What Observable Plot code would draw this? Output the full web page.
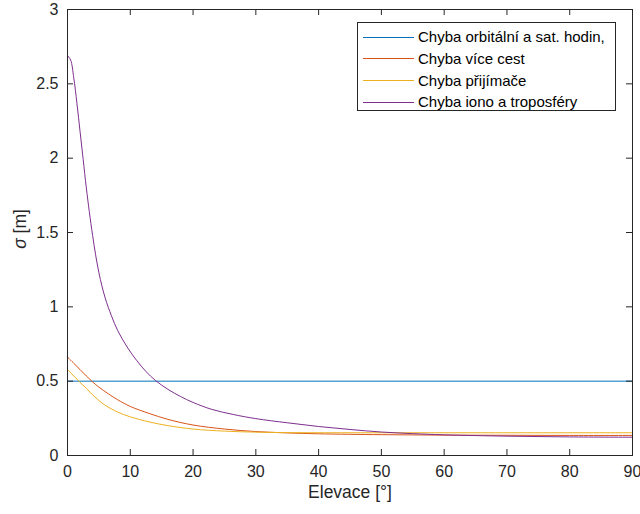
<!DOCTYPE html>
<html>
<head>
<meta charset="utf-8">
<script src="https://cdn.jsdelivr.net/npm/d3@7"></script>
<script src="https://cdn.jsdelivr.net/npm/@observablehq/plot@0.6"></script>
<style>
  html, body { margin: 0; padding: 0; background: #fff; }
  #chart { position: relative; width: 640px; height: 514px; font-family: "Liberation Sans", Arial, sans-serif; color: #262626; }
  #legend { position: absolute; left: 357px; top: 22px; width: 259px; height: 89px; border: 1px solid #262626; background: #fff; box-sizing: border-box; padding-top: 3px; }
  .row { position: relative; height: 21.8px; font-size: 15px; line-height: 21.8px; color: #000; white-space: nowrap; }
  .row .sw { position: absolute; left: 5px; top: 10.5px; width: 51px; height: 0; border-top: 1px solid; }
  .row .lb { position: absolute; left: 60px; top: 0; }
</style>
</head>
<body>
<div id="chart"></div>
<script>
// Series names and colours
const seriesNames = ["Chyba orbitální a sat. hodin,", "Chyba více cest", "Chyba přijímače", "Chyba iono a troposféry"];
const seriesColors = ["#0072BD", "#D95319", "#EDB120", "#7E2F8E"];

// Orbital & clock error (constant)
const elevBlue = [0, 90];
const sigmaBlue = [0.5, 0.5];

// Multipath error
const elevRed = [0, 1, 2, 3, 4, 5, 6.5, 8, 10, 13, 16, 20, 25, 30, 35, 40, 50, 60, 70, 80, 90];
const sigmaRed = [0.662, 0.62, 0.578, 0.535, 0.495, 0.46, 0.415, 0.375, 0.33, 0.283, 0.243, 0.205, 0.178, 0.161, 0.152, 0.146, 0.14, 0.137, 0.136, 0.135, 0.135];

// Receiver error
const elevYellow = [0, 1, 2, 3, 4, 5, 6, 8, 10, 13, 16, 20, 25, 30, 35, 45, 60, 90];
const sigmaYellow = [0.579, 0.535, 0.492, 0.452, 0.408, 0.37, 0.338, 0.292, 0.26, 0.226, 0.201, 0.178, 0.164, 0.157, 0.154, 0.153, 0.153, 0.153];

// Iono & troposphere error
const elevPurple = [0, 0.5, 1, 1.5, 2, 2.5, 3, 4, 5, 6, 7, 8, 9.5, 11, 12.5, 14, 16, 18, 20, 23, 26.4, 30, 35, 40, 45, 50, 55, 60, 70, 80, 90];
const sigmaPurple = [2.69, 2.66, 2.54, 2.37, 2.18, 1.99, 1.80, 1.48, 1.23, 1.06, 0.94, 0.84, 0.73, 0.64, 0.565, 0.505, 0.445, 0.397, 0.357, 0.31, 0.276, 0.248, 0.22, 0.195, 0.175, 0.158, 0.147, 0.139, 0.130, 0.125, 0.123];

// Axis ticks
const xTicks = [0, 10, 20, 30, 40, 50, 60, 70, 80, 90];
const yTicks = [0, 0.5, 1, 1.5, 2, 2.5, 3];
const xLabel = "Elevace [°]";

const series = [
  [elevBlue, sigmaBlue],
  [elevRed, sigmaRed],
  [elevYellow, sigmaYellow],
  [elevPurple, sigmaPurple]
].map(([xs, ys], i) => xs.map((x, j) => ({x, y: ys[j], s: i})));

const W = 640, H = 514, mL = 67, mR = 8, mT = 9, mB = 59;
const pw = W - mL - mR, ph = H - mT - mB, tl = 6;
const axisColor = "#262626";

const plot = Plot.plot({
  width: W, height: H,
  marginLeft: mL, marginRight: mR, marginTop: mT, marginBottom: mB,
  x: {domain: [0, 90]},
  y: {domain: [0, 3]},
  style: {fontFamily: '"Liberation Sans", Arial, sans-serif', background: "#fff", color: axisColor, overflow: "visible"},
  marks: [
    Plot.axisX({ticks: xTicks, tickSize: 0, tickPadding: 10, fontSize: 16, label: null, tickFormat: d => d3.format("~g")(d)}),
    Plot.axisY({ticks: yTicks, tickSize: 0, tickPadding: 9, fontSize: 16, label: null, tickFormat: d => d3.format("~g")(d)}),
    ...series.map((data, i) => Plot.line(data, {x: "x", y: "y", stroke: seriesColors[i], strokeWidth: 1, curve: "catmull-rom"})),
    Plot.tickX(xTicks, {x: d => d, insetTop: ph - tl, stroke: axisColor}),
    Plot.tickX(xTicks, {x: d => d, insetBottom: ph - tl, stroke: axisColor}),
    Plot.tickY(yTicks, {y: d => d, insetRight: pw - tl, stroke: axisColor}),
    Plot.tickY(yTicks, {y: d => d, insetLeft: pw - tl, stroke: axisColor}),
    Plot.frame({stroke: axisColor}),
    Plot.text([xLabel], {frameAnchor: "bottom", dy: 42, fontSize: 17.5, fill: axisColor})
  ]
});

const chart = document.getElementById("chart");
chart.appendChild(plot);

// y-axis label with italic sigma
const svg = d3.select(plot);
const yl = svg.append("text")
  .attr("transform", "translate(26,229) rotate(-90)")
  .attr("text-anchor", "middle")
  .attr("font-size", 17.5)
  .attr("fill", axisColor);
yl.append("tspan").attr("font-style", "italic").text("σ");
yl.append("tspan").text(" [m]");

// Legend
const legend = document.createElement("div");
legend.id = "legend";
seriesNames.forEach((name, i) => {
  const row = document.createElement("div");
  row.className = "row";
  const sw = document.createElement("span");
  sw.className = "sw";
  sw.style.borderTopColor = seriesColors[i];
  const lb = document.createElement("span");
  lb.className = "lb";
  lb.textContent = name;
  row.appendChild(sw);
  row.appendChild(lb);
  legend.appendChild(row);
});
chart.appendChild(legend);
</script>
</body>
</html>
